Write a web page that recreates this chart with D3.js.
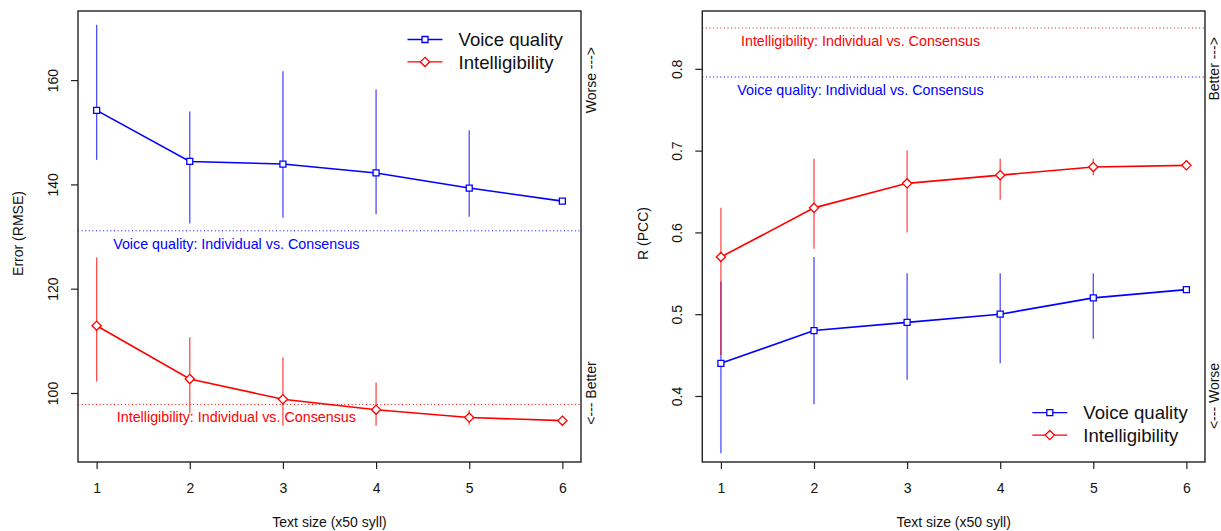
<!DOCTYPE html>
<html>
<head>
<meta charset="utf-8">
<script src="https://cdn.jsdelivr.net/npm/d3@7"></script>
<style>
    body { margin: 0; background: white; }
    svg { display: block; font-family: Helvetica, "Liberation Sans", Arial, sans-serif; }
</style>
</head>
<body>
<div id="container"></div>
<script>
// Data
const textSizes = [1, 2, 3, 4, 5, 6];

// Left panel: error (RMSE)
const rmseVoice = [154.2, 144.4, 143.9, 142.2, 139.3, 136.8];
const rmseVoiceHi = [170.6, 154.0, 161.7, 158.2, 150.4, null];
const rmseVoiceLo = [144.7, 132.5, 133.6, 134.3, 133.8, null];
const rmseIntel = [112.9, 102.7, 98.8, 96.8, 95.3, 94.7];
const rmseIntelHi = [126.0, 110.7, 106.8, 102.0, 96.7, null];
const rmseIntelLo = [102.2, 96.1, 93.7, 93.7, 93.9, null];
const rmseVoiceConsensus = 131.1;
const rmseIntelConsensus = 97.8;
const rmseTicks = [100, 120, 140, 160];

// Right panel: R (PCC)
const pccVoice = [0.44, 0.48, 0.49, 0.50, 0.52, 0.53];
const pccVoiceHi = [0.54, 0.57, 0.55, 0.55, 0.55, null];
const pccVoiceLo = [0.33, 0.39, 0.42, 0.44, 0.47, null];
const pccIntel = [0.57, 0.63, 0.66, 0.67, 0.68, 0.682];
const pccIntelHi = [0.63, 0.69, 0.70, 0.69, 0.69, null];
const pccIntelLo = [0.45, 0.58, 0.60, 0.64, 0.67, null];
const pccVoiceConsensus = 0.79;
const pccIntelConsensus = 0.85;
const pccTicks = [0.4, 0.5, 0.6, 0.7, 0.8];

const seriesNames = ["Voice quality", "Intelligibility"];
const blue = "#0000ff";
const red = "#ff0000";

// SVG dimensions
const w = 1221;
const h = 531;
const fontStack = "Helvetica, 'Liberation Sans', Arial, sans-serif";

const svg = d3.select("#container")
    .append("svg")
    .attr("width", w)
    .attr("height", h);

// Build one panel
function drawPanel(opt) {

    const xScale = d3.scaleLinear()
        .domain([0.8, 6.2])
        .range([opt.left, opt.right]);

    const yScale = d3.scaleLinear()
        .domain(opt.ydomain)
        .range([opt.bottom, opt.top]);

    const g = svg.append("g");

    // Consensus reference lines (dotted)
    opt.refs.forEach(function(r) {
        g.append("line")
            .attr("x1", opt.left)
            .attr("x2", opt.right)
            .attr("y1", yScale(r.value))
            .attr("y2", yScale(r.value))
            .attr("stroke", r.color)
            .attr("stroke-width", 1)
            .attr("stroke-dasharray", "1,2.6");

        g.append("text")
            .attr("x", xScale(2.5))
            .attr("y", yScale(r.value) + r.dy)
            .attr("text-anchor", "middle")
            .attr("fill", r.color)
            .style("font-size", "14.3px")
            .text(r.label);
    });

    // Series: error bars, lines, markers
    opt.series.forEach(function(s) {
        const pts = textSizes.map((x, i) => ({ x: x, y: s.mean[i], hi: s.hi[i], lo: s.lo[i] }));

        g.selectAll(null)
            .data(pts.filter(d => d.hi !== null))
            .enter()
            .append("line")
            .attr("x1", d => xScale(d.x))
            .attr("x2", d => xScale(d.x))
            .attr("y1", d => yScale(d.hi))
            .attr("y2", d => yScale(d.lo))
            .attr("stroke", s.color)
            .attr("stroke-opacity", 0.7)
            .attr("stroke-width", 1.3);

        g.append("path")
            .datum(pts)
            .attr("fill", "none")
            .attr("stroke", s.color)
            .attr("stroke-width", 1.6)
            .attr("d", d3.line()
                .x(d => xScale(d.x))
                .y(d => yScale(d.y))
            );

        g.selectAll(null)
            .data(pts)
            .enter()
            .append("path")
            .attr("transform", d => "translate(" + xScale(d.x) + "," + yScale(d.y) + ")")
            .attr("d", s.shape)
            .attr("fill", "white")
            .attr("stroke", s.color)
            .attr("stroke-width", 1.3);
    });

    // Box
    g.append("rect")
        .attr("x", opt.left)
        .attr("y", opt.top)
        .attr("width", opt.right - opt.left)
        .attr("height", opt.bottom - opt.top)
        .attr("fill", "none")
        .attr("stroke", "#222")
        .attr("stroke-width", 1.4);

    // Axes
    const xAxis = d3.axisBottom(xScale)
        .tickValues(textSizes)
        .tickFormat(d3.format("d"))
        .tickSize(7)
        .tickPadding(14);

    const xg = g.append("g")
        .attr("transform", "translate(0," + opt.bottom + ")")
        .call(xAxis);
    xg.select(".domain").remove();
    xg.selectAll("line").attr("stroke", "#222").attr("stroke-width", 1.2);
    xg.selectAll("text")
        .attr("fill", "#111")
        .style("font-size", "14px")
        .style("font-family", fontStack);

    const yAxis = d3.axisLeft(yScale)
        .tickValues(opt.yticks)
        .tickFormat(opt.yformat)
        .tickSize(7);

    const yg = g.append("g")
        .attr("transform", "translate(" + opt.left + ",0)")
        .call(yAxis);
    yg.select(".domain").remove();
    yg.selectAll("line").attr("stroke", "#222").attr("stroke-width", 1.2);
    yg.selectAll("text")
        .attr("x", null)
        .attr("dy", null)
        .attr("text-anchor", "middle")
        .attr("transform", "translate(-20,0) rotate(-90)")
        .attr("fill", "#111")
        .style("font-size", "14px")
        .style("font-family", fontStack);

    // Axis titles
    g.append("text")
        .attr("x", (opt.left + opt.right) / 2)
        .attr("y", 527)
        .attr("text-anchor", "middle")
        .attr("fill", "#111")
        .style("font-size", "14px")
        .text("Text size (x50 syll)");

    g.append("text")
        .attr("transform", "translate(" + opt.ylabelX + "," + ((opt.top + opt.bottom) / 2 - 3) + ") rotate(-90)")
        .attr("text-anchor", "middle")
        .attr("fill", "#111")
        .style("font-size", "14px")
        .text(opt.ylabel);

    // Worse / Better notes on the right side
    opt.notes.forEach(function(n) {
        g.append("text")
            .attr("transform", "translate(" + (opt.right + opt.noteDx) + "," + yScale(n.at) + ") rotate(-90)")
            .attr("text-anchor", "middle")
            .attr("fill", "#111")
            .style("font-size", "14px")
            .text(n.text);
    });

    // Legend
    const legend = g.append("g")
        .attr("transform", "translate(" + opt.legendX + "," + opt.legendY + ")");

    opt.series.forEach(function(s, i) {
        const row = legend.append("g")
            .attr("transform", "translate(0," + (i * 22.4) + ")");
        row.append("line")
            .attr("x1", 0)
            .attr("x2", 35)
            .attr("stroke", s.color)
            .attr("stroke-width", 1.3);
        row.append("path")
            .attr("transform", "translate(17.5,0)")
            .attr("d", s.shape)
            .attr("fill", "white")
            .attr("stroke", s.color)
            .attr("stroke-width", 1.3);
        row.append("text")
            .attr("x", 51)
            .attr("dy", "0.36em")
            .attr("fill", "#111")
            .style("font-size", "18.6px")
            .text(seriesNames[i]);
    });
}

const square = "M-3,-3H3V3H-3Z";
const diamond = "M0,-4.6L4.6,0L0,4.6L-4.6,0Z";

// Left panel
drawPanel({
    left: 78, right: 581, top: 11, bottom: 462,
    ydomain: [86.77, 173.25],
    yticks: rmseTicks,
    yformat: d3.format("d"),
    ylabel: "Error (RMSE)",
    ylabelX: 23,
    series: [
        { mean: rmseVoice, hi: rmseVoiceHi, lo: rmseVoiceLo, color: blue, shape: square },
        { mean: rmseIntel, hi: rmseIntelHi, lo: rmseIntelLo, color: red, shape: diamond }
    ],
    refs: [
        { value: rmseVoiceConsensus, color: blue, label: "Voice quality: Individual vs. Consensus", dy: 18 },
        { value: rmseIntelConsensus, color: red, label: "Intelligibility: Individual vs. Consensus", dy: 18 }
    ],
    notes: [
        { at: 160, text: "Worse --->" },
        { at: 100, text: "<--- Better" }
    ],
    noteDx: 14.5,
    legendX: 407.5,
    legendY: 39.5
});

// Right panel
drawPanel({
    left: 702.3, right: 1205, top: 11, bottom: 462,
    ydomain: [0.3193, 0.8707],
    yticks: pccTicks,
    yformat: d3.format(".1f"),
    ylabel: "R (PCC)",
    ylabelX: 648,
    series: [
        { mean: pccVoice, hi: pccVoiceHi, lo: pccVoiceLo, color: blue, shape: square },
        { mean: pccIntel, hi: pccIntelHi, lo: pccIntelLo, color: red, shape: diamond }
    ],
    refs: [
        { value: pccIntelConsensus, color: red, label: "Intelligibility: Individual vs. Consensus", dy: 18 },
        { value: pccVoiceConsensus, color: blue, label: "Voice quality: Individual vs. Consensus", dy: 18 }
    ],
    notes: [
        { at: 0.8, text: "Better --->" },
        { at: 0.4, text: "<--- Worse" }
    ],
    noteDx: 13.5,
    legendX: 1032.3,
    legendY: 412.7
});
</script>
</body>
</html>
